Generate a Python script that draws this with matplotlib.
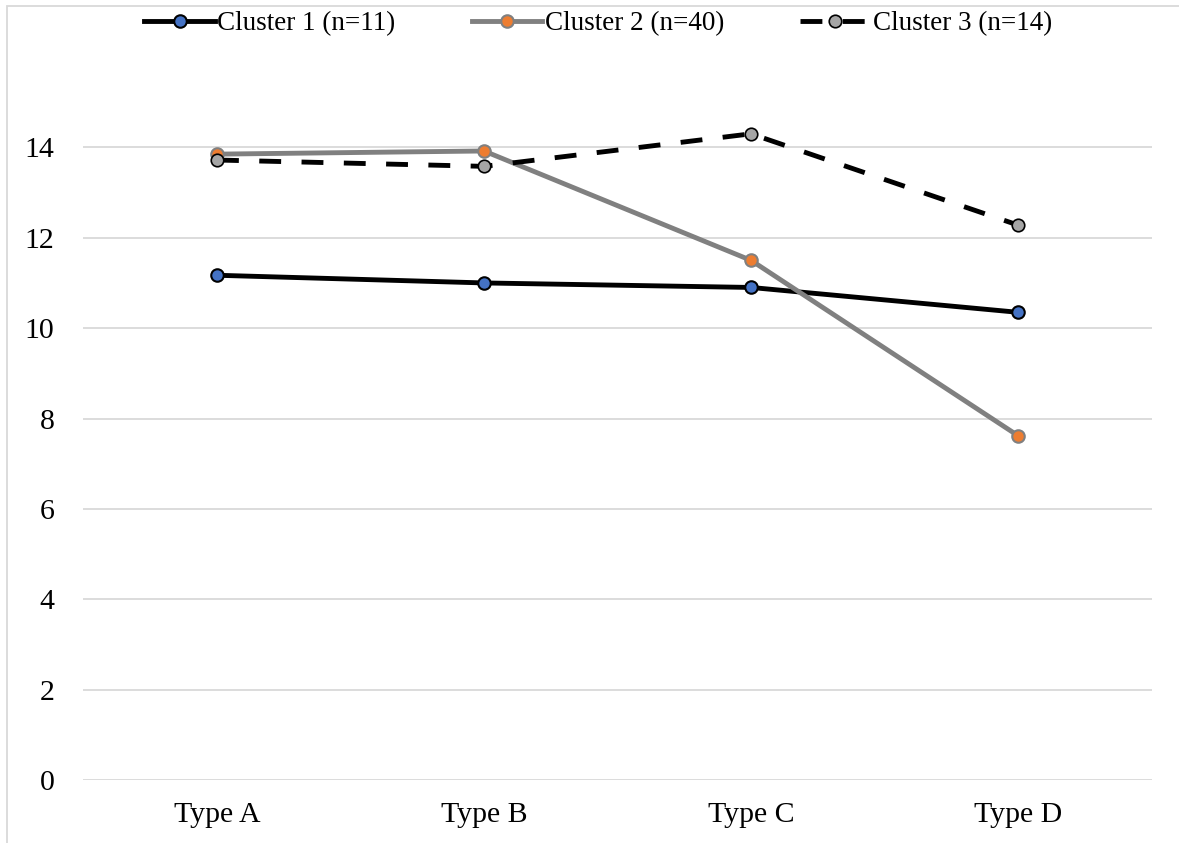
import matplotlib
matplotlib.use("Agg")
import matplotlib.pyplot as plt
from matplotlib.patches import Rectangle

categories = ["Type A", "Type B", "Type C", "Type D"]
cluster1 = [11.17, 11.0, 10.9, 10.35]
cluster2 = [13.85, 13.92, 11.5, 7.62]
cluster3 = [13.72, 13.58, 14.3, 12.28]
labels = ["Cluster 1 (n=11)", "Cluster 2 (n=40)", "Cluster 3 (n=14)"]

plt.rcParams['font.family'] = ['Liberation Serif', 'DejaVu Serif']

fig = plt.figure(figsize=(11.79, 8.43), dpi=100)
ax = fig.add_axes([0.0708, 0.0747, 0.9059, 0.8577])

x = range(len(categories))
ax.plot(x, cluster1, color='black', lw=3.5, marker='o', ms=9,
        mfc='#4472C4', mec='black', mew=1.5, label=labels[0], zorder=3)
ax.plot(x, cluster2, color='#808080', lw=3.5, marker='o', ms=9,
        mfc='#ED7D31', mec='#808080', mew=1.5, label=labels[1], zorder=3)
ax.plot(x, cluster3, color='black', lw=3.5, ls=(0, (4.5, 4.2)), marker='o', ms=9,
        mfc='#A5A5A5', mec='black', mew=1.2, label=labels[2], zorder=4)

ax.set_xlim(-0.5, 3.5)
ax.set_ylim(0, 16)
ax.set_yticks(range(0, 15, 2))
ax.set_xticks(list(x))
ax.set_xticklabels(categories)
ax.tick_params(axis='both', length=0, labelsize=21.5)
ax.tick_params(axis='y', pad=21)
ax.tick_params(axis='x', pad=16)
ax.grid(axis='y', color='#D9D9D9', lw=1.3)
ax.set_axisbelow(True)
for s in ax.spines.values():
    s.set_visible(False)

ax.legend(loc='center', bbox_to_anchor=(0.482, 1.046), ncol=3, frameon=False,
          fontsize=19.5, handlelength=2.6, handletextpad=0.1, columnspacing=2.8)

fig.patches.append(Rectangle((0.006, -0.01), 1.5, 1.003, transform=fig.transFigure,
                             fill=False, edgecolor='#D9D9D9', lw=1.3))

fig.savefig("out.png", dpi=100)
